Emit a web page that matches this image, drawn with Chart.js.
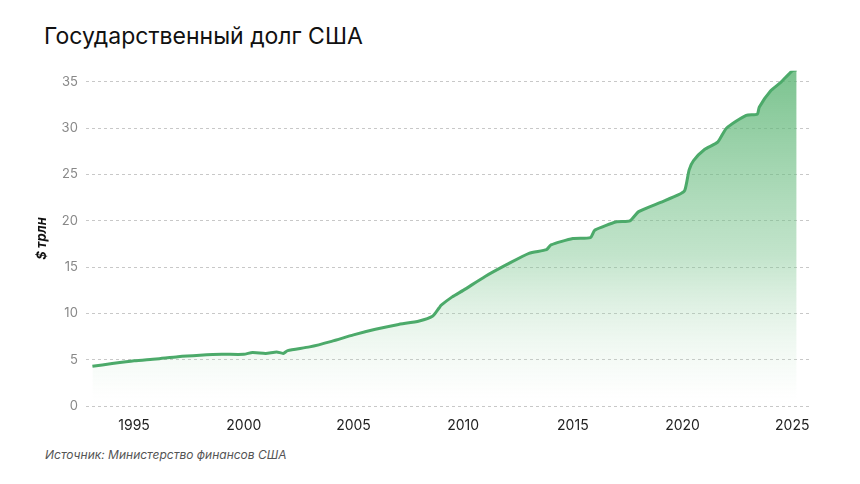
<!DOCTYPE html>
<html>
<head>
<meta charset="utf-8">
<script src="https://cdn.jsdelivr.net/npm/chart.js@4"></script>
<style>
  body { margin: 0; background: #fff; font-family: Inter, "Noto Sans", sans-serif; }
  #wrap { position: relative; width: 860px; height: 484px; }
  h1 { position: absolute; left: 44px; top: 22px; margin: 0; font-size: 23px; font-weight: 400; color: #111; }
  #src { position: absolute; left: 45px; top: 447px; font-size: 12px; font-style: italic; color: #555; }
  #box { position: absolute; left: 30px; top: 55px; width: 790px; height: 382px; }
</style>
</head>
<body>
<div id="wrap">
  <h1>Государственный долг США</h1>
  <div id="box"><canvas id="c"></canvas></div>
  <div id="src">Источник: Министерство финансов США</div>
</div>
<script>
// --- Данные (годы и долг, трлн $) ---
const years = [1993.1, 1994, 1995, 1996, 1997, 1998, 1999, 2000, 2000.4, 2001, 2001.5, 2001.8, 2002, 2003, 2004, 2005, 2006, 2007, 2008, 2008.6, 2008.9, 2009, 2009.5, 2010, 2011, 2012, 2013, 2013.8, 2014, 2015, 2015.8, 2016, 2017, 2017.6, 2018, 2019, 2019.8, 2020.1, 2020.3, 2020.5, 2021, 2021.6, 2022, 2022.9, 2023.4, 2023.5, 2024, 2024.5, 2025, 2025.2];
const debt = [4.3, 4.6, 4.9, 5.1, 5.35, 5.5, 5.6, 5.6, 5.8, 5.7, 5.85, 5.7, 6.0, 6.4, 7.0, 7.7, 8.3, 8.8, 9.2, 9.7, 10.6, 10.9, 11.8, 12.5, 14.0, 15.3, 16.5, 16.9, 17.4, 18.1, 18.2, 19.0, 19.9, 20.0, 21.0, 22.0, 22.8, 23.3, 25.5, 26.5, 27.7, 28.5, 30.0, 31.4, 31.5, 32.3, 34.0, 35.0, 36.2, 36.3];
const xTicks = [1995, 2000, 2005, 2010, 2015, 2020, 2025];
const yTicks = [0, 5, 10, 15, 20, 25, 30, 35];

const ctx = document.getElementById('c').getContext('2d');
new Chart(ctx, {
    type: 'line',
    data: {
        datasets: [{
            data: years.map((y, i) => ({ x: y, y: debt[i] })),
            borderColor: '#4caa6a',
            borderWidth: 3,
            pointRadius: 0,
            tension: 0.2,
            fill: 'origin',
            backgroundColor: (c) => {
                const area = c.chart.chartArea;
                if (!area) return 'rgba(76,170,106,0.5)';
                const g = c.chart.ctx.createLinearGradient(0, area.top, 0, area.bottom);
                g.addColorStop(0, 'rgba(90,180,115,0.8)');
                g.addColorStop(0.55, 'rgba(120,195,140,0.45)');
                g.addColorStop(0.95, 'rgba(200,230,205,0.05)');
                g.addColorStop(1, 'rgba(255,255,255,0)');
                return g;
            }
        }]
    },
    options: {
        responsive: true,
        maintainAspectRatio: false,
        animation: false,
        layout: { padding: { right: 8 } },
        plugins: { legend: { display: false }, tooltip: { enabled: false } },
        scales: {
            x: {
                type: 'linear', min: 1992.8, max: 2025.9,
                afterBuildTicks: (ax) => { ax.ticks = xTicks.map(v => ({ value: v })); },
                grid: { display: false },
                border: { display: false },
                ticks: { color: '#222', font: { size: 14, family: 'Inter' }, callback: v => String(v) }
            },
            y: {
                min: 0, max: 36.2,
                afterBuildTicks: (ax) => { ax.ticks = yTicks.map(v => ({ value: v })); },
                grid: { color: '#c8c8c8', drawTicks: false },
                border: { display: false, dash: [3, 3] },
                ticks: { color: '#888', padding: 8, font: { size: 13, family: 'Inter' } },
                title: { display: true, text: '$ трлн', color: '#111', font: { size: 13, weight: 'bold', style: 'italic', family: 'Inter' } }
            }
        }
    }
});
</script>
</body>
</html>
